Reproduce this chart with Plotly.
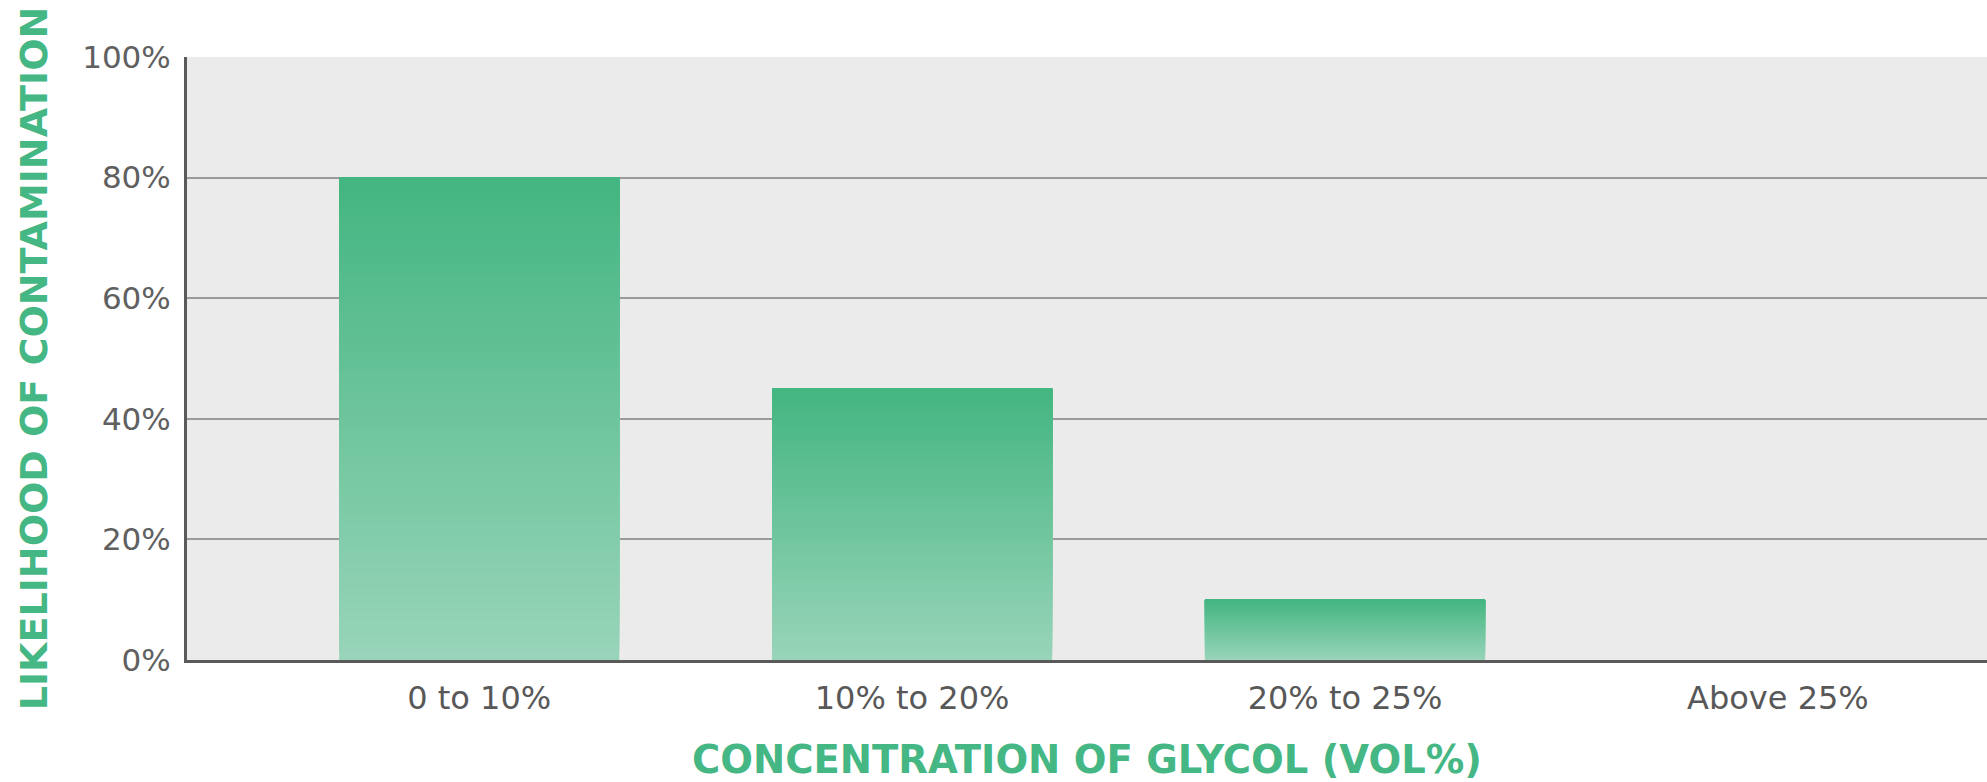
import plotly.graph_objects as go

categories = ["0 to 10%", "10% to 20%", "20% to 25%", "Above 25%"]
likelihood = [80, 45, 10, 0]
y_ticks = [0, 20, 40, 60, 80, 100]
y_tick_labels = ["0%", "20%", "40%", "60%", "80%", "100%"]

top_rgb = (66, 181, 128)
bottom_rgb = (152, 212, 185)
N = 60

def mix(t):
    r = [round(bottom_rgb[i] + (top_rgb[i] - bottom_rgb[i]) * t) for i in range(3)]
    return f"rgb({r[0]},{r[1]},{r[2]})"

fig = go.Figure()
# gradient bars: layered bars, each starting higher and drawn over the previous
for k in range(N):
    frac = k / N
    fig.add_trace(go.Bar(
        x=categories,
        y=[v * (1 - frac) for v in likelihood],
        base=[v * frac for v in likelihood],
        width=0.647,
        marker=dict(color=mix(frac), line=dict(width=0)),
        showlegend=False,
        hoverinfo="skip",
    ))

x_title_font = dict(size=38.5, family="DejaVu Sans", weight="bold", color="#45b784")
y_title_font = dict(size=38, family="DejaVu Sans", weight="bold", color="#45b784")

fig.update_layout(
    width=1987, height=782,
    margin=dict(l=187, r=0, t=57, b=122),
    barmode="overlay",
    plot_bgcolor="#ebebeb",
    paper_bgcolor="white",
    font=dict(family="DejaVu Sans", color="#555555"),
    xaxis=dict(
        type="category",
        range=[-0.675, 3.483],
        showgrid=False,
        showline=True, linecolor="#5a5a5a", linewidth=3,
        ticks="outside", ticklen=8, tickcolor="rgba(0,0,0,0)",
        tickfont=dict(size=32, family="DejaVu Sans", color="#585858"),
        title=dict(text="CONCENTRATION OF GLYCOL (VOL%)", font=x_title_font, standoff=39),
    ),
    yaxis=dict(
        range=[0, 100],
        tickvals=y_ticks, ticktext=y_tick_labels,
        showgrid=True, gridcolor="#9a9a9a", gridwidth=1.5,
        zeroline=False,
        showline=True, linecolor="#5a5a5a", linewidth=3,
        ticks="outside", ticklen=7, tickcolor="rgba(0,0,0,0)",
        tickfont=dict(size=31, family="DejaVu Sans", color="#606060"),
        title=dict(text="LIKELIHOOD OF CONTAMINATION", font=y_title_font, standoff=23),
    ),
)

fig.write_html(
    "out.html",
    config={"displayModeBar": False},
    post_script="document.body.style.margin='0';document.body.style.overflow='hidden';",
)
